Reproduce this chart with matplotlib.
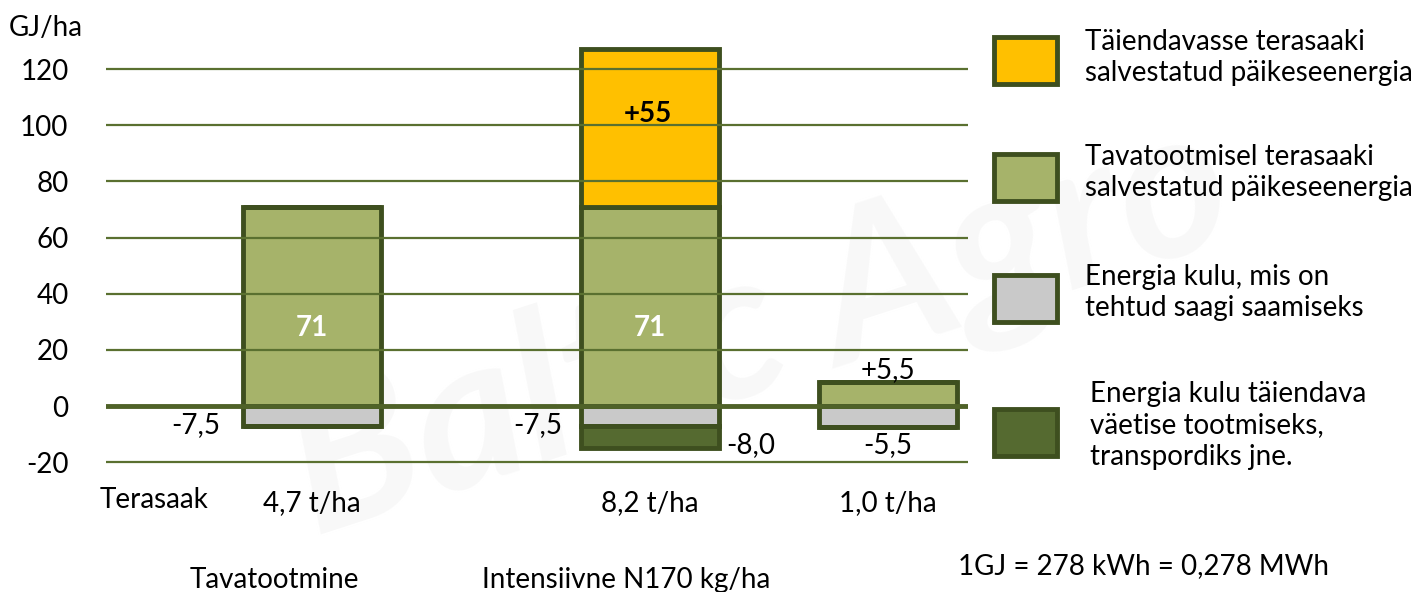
import numpy as np
import matplotlib.pyplot as plt
from matplotlib.patches import Rectangle

plt.rcParams['font.family'] = ['Lato', 'DejaVu Sans']

# andmed (GJ/ha)
yield_labels = ["4,7 t/ha", "8,2 t/ha", "1,0 t/ha"]
base_energy = [71, 71, 8.5]      # tavatootmisel salvestatud päikeseenergia
extra_energy = [0, 56, 0]        # täiendavasse terasaaki salvestatud
harvest_cost = [-7, -7, -7.5]    # saagi saamise energiakulu
fert_cost = [0, -8, 0]           # täiendava väetise tootmine jne

base_text = ["71", "71", "+5,5"]
cost_text = ["-7,5", "-7,5", "-5,5"]
extra_text = "+55"
fert_text = "-8,0"

legend_labels = [
    "Täiendavasse terasaaki\nsalvestatud päikeseenergia",
    "Tavatootmisel terasaaki\nsalvestatud päikeseenergia",
    "Energia kulu, mis on\ntehtud saagi saamiseks",
    "Energia kulu täiendava\nväetise tootmiseks,\ntranspordiks jne.",
]

c_yellow = '#FFC000'
c_green = '#A6B36A'
c_grey = '#C9C9C9'
c_dark = '#556A30'
c_edge = '#3E4F1F'
c_grid = '#5A7030'

x_pos = np.array([312, 650, 888])
bar_w = 138
fs = 20

fig = plt.figure(figsize=(14.24, 5.92), dpi=100)

# taustal vesimärk
bg = fig.add_axes([0, 0, 1, 1], zorder=-2)
bg.set_xlim(0, 1424)
bg.set_ylim(592, 0)
bg.axis('off')
bg.text(760, 330, "Baltic Agro", fontsize=150, fontstyle='italic', fontweight='bold',
        color='#f8f8f8', rotation=18, ha='center', va='center')

ax = fig.add_axes([106 / 1424, 110 / 592, 862 / 1424, 441 / 592])
ax.patch.set_visible(False)
ax.set_xlim(106, 968)
ax.set_ylim(-27, 130)

kw = dict(width=bar_w, edgecolor=c_edge, linewidth=3.5, zorder=2)
ax.bar(x_pos, base_energy, color=c_green, **kw)
ax.bar(x_pos, extra_energy, bottom=base_energy, color=c_yellow, **kw)
ax.bar(x_pos, harvest_cost, color=c_grey, **kw)
ax.bar(x_pos, fert_cost, bottom=harvest_cost, color=c_dark, **kw)

# ruudustik on tulpade peal
for v in range(-20, 121, 20):
    if v == 0:
        ax.axhline(0, color='#4F6228', lw=3.5, zorder=3)
    else:
        ax.axhline(v, color=c_grid, lw=1.6, zorder=3)

ax.set_yticks(range(-20, 121, 20))
ax.set_yticklabels([str(v) for v in range(-20, 121, 20)], fontsize=fs)
ax.tick_params(axis='y', length=0, pad=27)
ax.set_xticks(x_pos)
ax.set_xticklabels(yield_labels, fontsize=fs)
ax.tick_params(axis='x', length=0, pad=6)
for s in ax.spines.values():
    s.set_visible(False)

# väärtuste sildid
ax.text(x_pos[0], 28, base_text[0], color='white', fontweight='bold', fontsize=fs,
        ha='center', va='center', zorder=5)
ax.text(x_pos[1], 28, base_text[1], color='white', fontweight='bold', fontsize=fs,
        ha='center', va='center', zorder=5)
ax.text(x_pos[2], 13, base_text[2], fontsize=fs, ha='center', va='center', zorder=5)
ax.text(x_pos[1] - 2, 104, extra_text, fontweight='bold', fontsize=fs,
        ha='center', va='center', zorder=5)
ax.text(x_pos[0] - 116, -6.8, cost_text[0], fontsize=fs, ha='center', va='center', zorder=5)
ax.text(x_pos[1] - 112, -6.8, cost_text[1], fontsize=fs, ha='center', va='center', zorder=5)
ax.text(x_pos[1] + 101, -14, fert_text, fontsize=fs, ha='center', va='center', zorder=5)
ax.text(x_pos[2], -14, cost_text[2], fontsize=fs, ha='center', va='center', zorder=5)

# ülejäänud tekstid ja legend pikslikoordinaatides
ov = fig.add_axes([0, 0, 1, 1], zorder=5)
ov.set_xlim(0, 1424)
ov.set_ylim(592, 0)
ov.axis('off')

ov.text(9, 28, "GJ/ha", fontsize=fs, ha='left', va='center')
ov.text(100, 500, "Terasaak", fontsize=fs, ha='left', va='center')
ov.text(274, 580, "Tavatootmine", fontsize=fs, ha='center', va='center')
ov.text(626, 580, "Intensiivne N170 kg/ha", fontsize=fs, ha='center', va='center')
ov.text(1144, 566, "1GJ = 278 kWh = 0,278 MWh", fontsize=fs, ha='center', va='center')

legend_colors = [c_yellow, c_green, c_grey, c_dark]
box_top = [37, 154, 275, 409]
text_top = [29, 144, 264, 381]
text_x = [1085, 1085, 1085, 1090]
for col, lab, by, ty, tx in zip(legend_colors, legend_labels, box_top, text_top, text_x):
    ov.add_patch(Rectangle((994, by), 63, 47, facecolor=col, edgecolor=c_edge, lw=3.5))
    ov.text(tx, ty, lab, fontsize=fs, ha='left', va='top', linespacing=1.25)

fig.savefig('out.png', dpi=100)
